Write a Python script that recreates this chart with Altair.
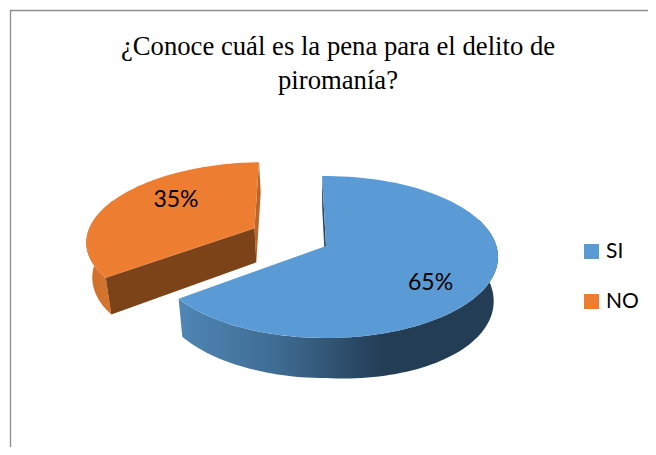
import math
import altair as alt
import pandas as pd

# --- chart values
categories = ["SI", "NO"]
shares = [65, 35]
label_texts = ["65%", "35%"]
title_lines = ["¿Conoce cuál es la pena para el delito de", "piromanía?"]
top_colors = ["#5B9BD5", "#ED7D31"]

# --- 3D pie view (Office-like perspective view of a tilted disc)
CX, CY = 326.0, 246.0     # screen position of the disc centre
RX, RY = 170.4, 79.5      # projected radii
PERSP = 0.136             # perspective strength
FIRST_ANGLE = -1.5        # degrees clockwise from the back of the disc
EXPLODE = {"NO": 0.49}    # explosion of a slice, in radii
EXPLODE_TURN = 2.5
LABEL_R = {"SI": 0.727, "NO": 0.66}
LABEL_TURN = 12.0


def project(theta, r, off):
    X = off[0] + r * math.sin(math.radians(theta))
    Y = off[1] + r * math.cos(math.radians(theta))
    w = 1 + PERSP * Y
    return CX + RX * X / w, CY - RY * Y / w


def lower(p):
    """Same point on the underside of the disc."""
    depth = 34 + (p[1] - 228) * 0.055 + max(0.0, p[0] - CX) * 0.05
    return CX + (p[0] - CX) * 0.975, p[1] + depth


def arc(a, b, off, n=90):
    return [project(a + (b - a) * i / n, 1, off) for i in range(n + 1)]


slices = {}
start = FIRST_ANGLE
for name, share, text in zip(categories, shares, label_texts):
    end = start + 360 * share / sum(shares)
    mid = (start + end) / 2
    t = EXPLODE.get(name, 0)
    turn = math.radians(mid + EXPLODE_TURN)
    off = (t * math.sin(turn), t * math.cos(turn))
    slices[name] = dict(a=start, b=end, mid=mid, off=off, text=text)
    start = end


def frame(points, name="p"):
    return pd.DataFrame(
        [{"x": x, "y": y, "i": i, "name": name} for i, (x, y) in enumerate(points)]
    )


X = alt.X("x:Q", scale=alt.Scale(domain=[8, 648], nice=False, zero=False), axis=None)
Y = alt.Y("y:Q", scale=alt.Scale(domain=[447, 8], nice=False, zero=False), axis=None)


def gradient(stops):
    return alt.LinearGradient(
        gradient="linear", x1=0, x2=1, y1=0, y2=0,
        stops=[alt.GradientStop(offset=o, color=c) for o, c in stops],
    )


def poly(points, fill):
    return (
        alt.Chart(frame(points))
        .mark_line(fill=fill, stroke=None, strokeWidth=0, interpolate="linear")
        .encode(x=X, y=Y, order="i:Q")
    )


si, no = slices["SI"], slices["NO"]
layers = []

# Frame of the chart area
frame_df = pd.DataFrame({"x": [10.5, 10.5, 648], "y": [447, 10.5, 10.5], "i": [0, 1, 2]})
layers.append(
    alt.Chart(frame_df)
    .mark_line(color="#8c8c8c", strokeWidth=1.3)
    .encode(x=X, y=Y, order="i:Q")
)

# Orange slice: rim, radial walls
rim = arc(no["a"], no["a"] + 60, no["off"])
layers.append(poly(rim + [lower(p) for p in reversed(rim)],
                   gradient([(0, "#cc702b"), (1, "#d9762f")])))
o_apex = project(0, 0, no["off"])
o_a, o_b = project(no["a"], 1, no["off"]), project(no["b"], 1, no["off"])
layers.append(poly([o_b, o_apex, lower(o_apex), lower(o_b)], "#b9662a"))
layers.append(poly([o_a, o_apex, lower(o_apex), lower(o_a)], "#7b4317"))

# Blue slice: rim and radial wall (darkest on the right, lighter to the left)
rim = arc(70, si["b"], si["off"])
layers.append(poly(rim + [lower(p) for p in reversed(rim)],
                   gradient([(0, "#4f86b4"), (0.3, "#3f6d94"), (0.64, "#233d55"), (1, "#233d55")])))
b_apex = project(0, 0, si["off"])
b_a = project(si["a"], 1, si["off"])
layers.append(poly([b_a, b_apex, lower(b_apex), lower(b_a)], "#2a4a66"))

# Top faces with the legend
tops = []
for name in categories:
    s = slices[name]
    apex = project(0, 0, s["off"])
    tops.append(frame([apex] + arc(s["a"], s["b"], s["off"]), name))
layers.append(
    alt.Chart(pd.concat(tops))
    .mark_line(stroke=None, strokeWidth=0, fillOpacity=1)
    .encode(
        x=X, y=Y, order="i:Q",
        fill=alt.Fill(
            "name:N",
            scale=alt.Scale(domain=categories, range=top_colors),
            legend=alt.Legend(
                title=None, orient="none", legendX=573, legendY=233,
                symbolType="square", symbolSize=225, symbolStrokeWidth=0,
                labelFont="Lato", labelFontSize=21, labelColor="#000000",
                labelOffset=4, rowPadding=28, labelLimit=80,
            ),
        ),
    )
)

# Percentage labels
labels = []
for name in categories:
    s = slices[name]
    x, y = project(s["mid"] + LABEL_TURN, LABEL_R[name], s["off"])
    labels.append({"x": x, "y": y, "t": s["text"]})
layers.append(
    alt.Chart(pd.DataFrame(labels))
    .mark_text(font="Lato", fontSize=23, color="#000000", align="center", baseline="middle")
    .encode(x=X, y=Y, text="t:N")
)

chart = alt.layer(*layers).properties(
    width=640,
    height=439,
    padding=0,
    autosize=alt.AutoSizeParams(type="none", contains="content"),
    background="#ffffff",
    title=alt.TitleParams(
        text=title_lines, font="Liberation Serif", fontSize=26.7, fontWeight="normal",
        color="#000000", anchor="middle", offset=-26, dx=10, dy=61, lineHeight=34,
        baseline="top",
    ),
).configure_view(stroke=None)

chart.save("out.html", embed_options={"renderer": "svg", "actions": False})
